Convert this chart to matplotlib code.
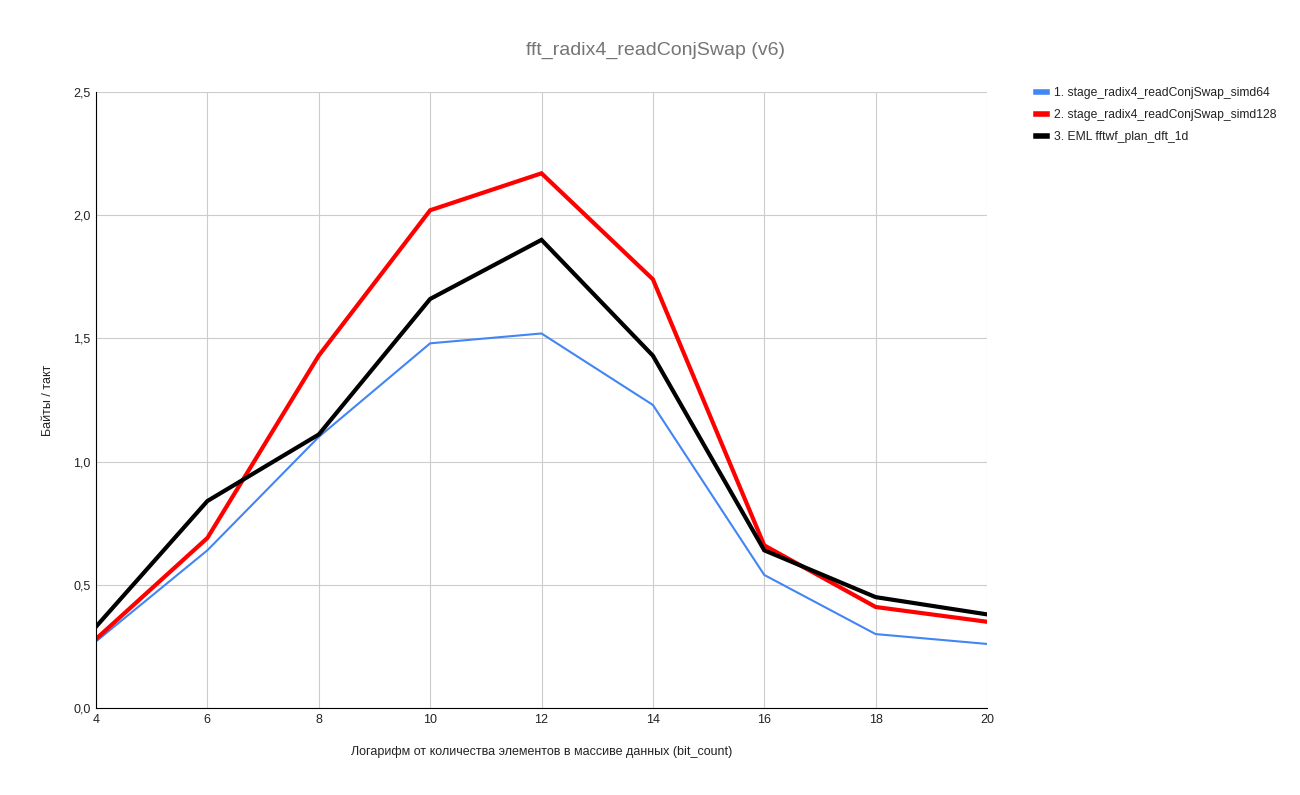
import matplotlib
matplotlib.use("Agg")
import matplotlib.pyplot as plt
from matplotlib.lines import Line2D

plt.rcParams['font.family'] = ['Liberation Sans', 'DejaVu Sans']

x_vals = [4, 6, 8, 10, 12, 14, 16, 18, 20]
simd64 = [0.27, 0.64, 1.10, 1.48, 1.52, 1.23, 0.54, 0.30, 0.26]
simd128 = [0.28, 0.69, 1.43, 2.02, 2.17, 1.74, 0.66, 0.41, 0.35]
eml = [0.33, 0.84, 1.11, 1.66, 1.90, 1.43, 0.64, 0.45, 0.38]

labels = ["1. stage_radix4_readConjSwap_simd64",
          "2. stage_radix4_readConjSwap_simd128",
          "3. EML fftwf_plan_dft_1d"]
colors = ["#4285f4", "#ff0000", "#000000"]
widths = [2.0, 4.0, 4.0]
y_ticks = [0.0, 0.5, 1.0, 1.5, 2.0, 2.5]
x_ticks = [4, 6, 8, 10, 12, 14, 16, 18, 20]

fig = plt.figure(figsize=(13, 7.95), dpi=100)
ax = fig.add_axes([96/1300, 87/795, (987-96)/1300, (708-92)/795])

for series, lab, c, w in zip([simd64, simd128, eml], labels, colors, widths):
    ax.plot(x_vals, series, color=c, linewidth=w*0.75, label=lab, solid_joinstyle='miter')

ax.set_xlim(4, 20)
ax.set_ylim(0, 2.5)
ax.set_xticks(x_ticks)
ax.set_xticklabels([str(v) for v in x_ticks])
ax.set_yticks(y_ticks)
ax.set_yticklabels([f"{v:.1f}".replace('.', ',') for v in y_ticks])
ax.grid(True, color="#cccccc", linewidth=0.8)
ax.set_axisbelow(True)
for s in ['top', 'right']:
    ax.spines[s].set_visible(False)
ax.spines['left'].set_color('#000000')
ax.spines['bottom'].set_color('#000000')
ax.tick_params(length=0, labelsize=9, colors='#222222', pad=4)
ax.set_xlabel("Логарифм от количества элементов в массиве данных (bit_count)", fontsize=9, color='#222222', labelpad=15)
ax.set_ylabel("Байты / такт", fontsize=9, color='#222222', labelpad=14)

fig.text(656/1300, 1 - 50/795, "fft_radix4_readConjSwap (v6)", ha='center', va='center',
         fontsize=14, color='#757575')

handles = [Line2D([0], [0], color=c, linewidth=4) for c in colors]
fig.legend(handles, labels, loc='upper left', bbox_to_anchor=(1025/1300, 1 - 76/795),
           frameon=False, fontsize=8.7, handlelength=0.9, handletextpad=0.6,
           labelspacing=0.85, labelcolor='#222222')

fig.savefig("out.png", dpi=100)
